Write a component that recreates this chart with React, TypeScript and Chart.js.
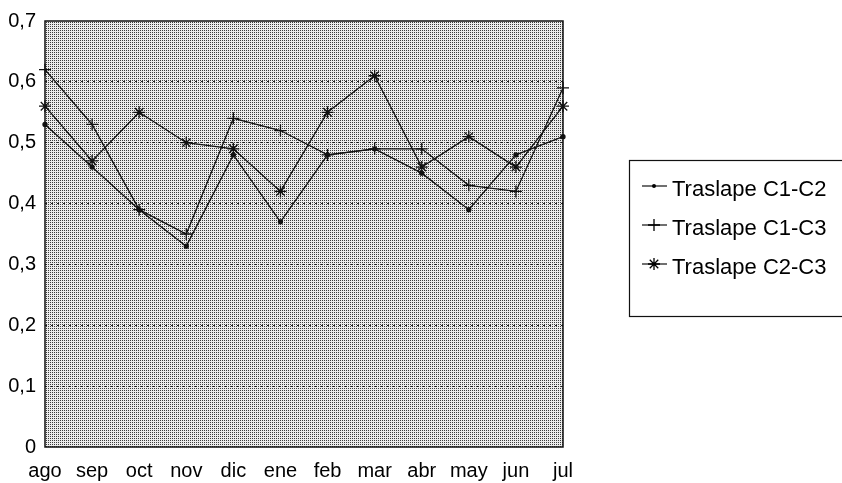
import React, { useEffect, useRef } from "react";
import { Chart, registerables } from "chart.js";

Chart.register(...registerables);

const months = ["ago", "sep", "oct", "nov", "dic", "ene", "feb", "mar", "abr", "may", "jun", "jul"];
const traslapeC1C2 = [0.53, 0.46, 0.39, 0.33, 0.48, 0.37, 0.48, 0.49, 0.45, 0.39, 0.48, 0.51];
const traslapeC1C3 = [0.62, 0.53, 0.39, 0.35, 0.54, 0.52, 0.48, 0.49, 0.49, 0.43, 0.42, 0.59];
const traslapeC2C3 = [0.56, 0.47, 0.55, 0.5, 0.49, 0.42, 0.55, 0.61, 0.46, 0.51, 0.46, 0.56];
const seriesLabels = ["Traslape C1-C2", "Traslape C1-C3", "Traslape C2-C3"];
const pointStyles = ["circle", "cross", "star"];

const FONT = '"Liberation Sans", Arial, sans-serif';

function makePattern(ctx: CanvasRenderingContext2D) {
  const c = document.createElement("canvas");
  c.width = 2;
  c.height = 2;
  const p = c.getContext("2d")!;
  p.fillStyle = "#ececec";
  p.fillRect(0, 0, 2, 2);
  p.fillStyle = "#3c3c3c";
  p.fillRect(0, 0, 1, 1);
  return ctx.createPattern(c, "repeat");
}

function drawMarker(ctx: CanvasRenderingContext2D, style: string, x: number, y: number) {
  ctx.save();
  ctx.strokeStyle = "#000";
  ctx.fillStyle = "#000";
  ctx.lineWidth = 1.3;
  const r = 6;
  if (style === "circle") {
    ctx.beginPath();
    ctx.arc(x, y, 2, 0, Math.PI * 2);
    ctx.fill();
  } else if (style === "cross") {
    ctx.beginPath();
    ctx.moveTo(x - r, y);
    ctx.lineTo(x + r, y);
    ctx.moveTo(x, y - r);
    ctx.lineTo(x, y + r);
    ctx.stroke();
  } else {
    ctx.beginPath();
    for (let i = 0; i < 4; i++) {
      const a = (i * Math.PI) / 4;
      ctx.moveTo(x - r * Math.cos(a), y - r * Math.sin(a));
      ctx.lineTo(x + r * Math.cos(a), y + r * Math.sin(a));
    }
    ctx.stroke();
  }
  ctx.restore();
}

const plotDecor = {
  id: "plotDecor",
  beforeDraw(chart: any) {
    const { ctx, chartArea } = chart;
    const pat = makePattern(ctx);
    ctx.save();
    ctx.fillStyle = pat || "#c4c4c4";
    ctx.fillRect(chartArea.left, chartArea.top, chartArea.right - chartArea.left, chartArea.bottom - chartArea.top);
    ctx.restore();
  },
  beforeDatasetsDraw(chart: any) {
    const { ctx, chartArea } = chart;
    ctx.save();
    ctx.strokeStyle = "#111";
    ctx.lineWidth = 1.5;
    ctx.strokeRect(chartArea.left, chartArea.top, chartArea.right - chartArea.left, chartArea.bottom - chartArea.top);
    ctx.restore();
  },
  afterDraw(chart: any) {
    const { ctx } = chart;
    ctx.save();
    ctx.strokeStyle = "#111";
    ctx.lineWidth = 1.2;
    ctx.strokeRect(629.5, 160.5, 230, 156);
    ctx.font = "22px " + FONT;
    ctx.fillStyle = "#000";
    ctx.textBaseline = "middle";
    const ys = [186, 225, 264];
    chart.data.datasets.forEach((ds: any, i: number) => {
      const y = ys[i];
      ctx.beginPath();
      ctx.lineWidth = 1.2;
      ctx.moveTo(642, y);
      ctx.lineTo(667, y);
      ctx.stroke();
      drawMarker(ctx, pointStyles[i], 654, y);
      ctx.fillText(ds.label, 672, y + 4);
    });
    ctx.restore();
  },
};

export default function App() {
  const ref = useRef<HTMLCanvasElement>(null);
  useEffect(() => {
    if (!ref.current) return;
    const seriesData = [traslapeC1C2, traslapeC1C3, traslapeC2C3];
    const chart = new Chart(ref.current, {
      type: "line",
      data: {
        labels: months,
        datasets: seriesData.map((d, i) => ({
          label: seriesLabels[i],
          data: d,
          borderColor: "#111",
          backgroundColor: "#111",
          borderWidth: 1.3,
          pointStyle: pointStyles[i] as any,
          pointRadius: i === 0 ? 2 : 6,
          pointBorderColor: "#111",
          pointBackgroundColor: "#111",
          pointBorderWidth: 1.3,
          tension: 0,
          fill: false,
        })),
      },
      options: {
        animation: false,
        responsive: true,
        maintainAspectRatio: false,
        layout: { padding: { top: 15, right: 279, left: 0, bottom: 0 } },
        plugins: { legend: { display: false }, tooltip: { enabled: false } },
        scales: {
          x: {
            offset: false,
            grid: { display: false, drawTicks: false },
            border: { display: false },
            ticks: {
              color: "#000",
              font: { family: FONT, size: 20 },
              padding: 12,
              maxRotation: 0,
              autoSkip: false,
            },
            afterFit: (s: any) => {
              s.height = 36;
            },
          },
          y: {
            min: 0,
            max: 0.7,
            border: { display: false, dash: [2, 4] },
            grid: {
              drawTicks: false,
              color: (c: any) => (c.tick && (c.tick.value === 0 || Math.abs(c.tick.value - 0.7) < 1e-6) ? "rgba(0,0,0,0)" : "#222"),
              lineWidth: 1,
            },
            ticks: {
              stepSize: 0.1,
              color: "#000",
              font: { family: FONT, size: 20 },
              padding: 9,
              callback: (v: any) => (Number(v) === 0 ? "0" : Number(v).toFixed(1).replace(".", ",")),
            },
            afterFit: (s: any) => {
              s.width = 45;
            },
          },
        },
      },
      plugins: [plotDecor],
    });
    return () => chart.destroy();
  }, []);
  return (
    <div style={{ position: "fixed", left: 0, top: 0, width: 842, height: 483, background: "#fff" }}>
      <canvas ref={ref} />
    </div>
  );
}
